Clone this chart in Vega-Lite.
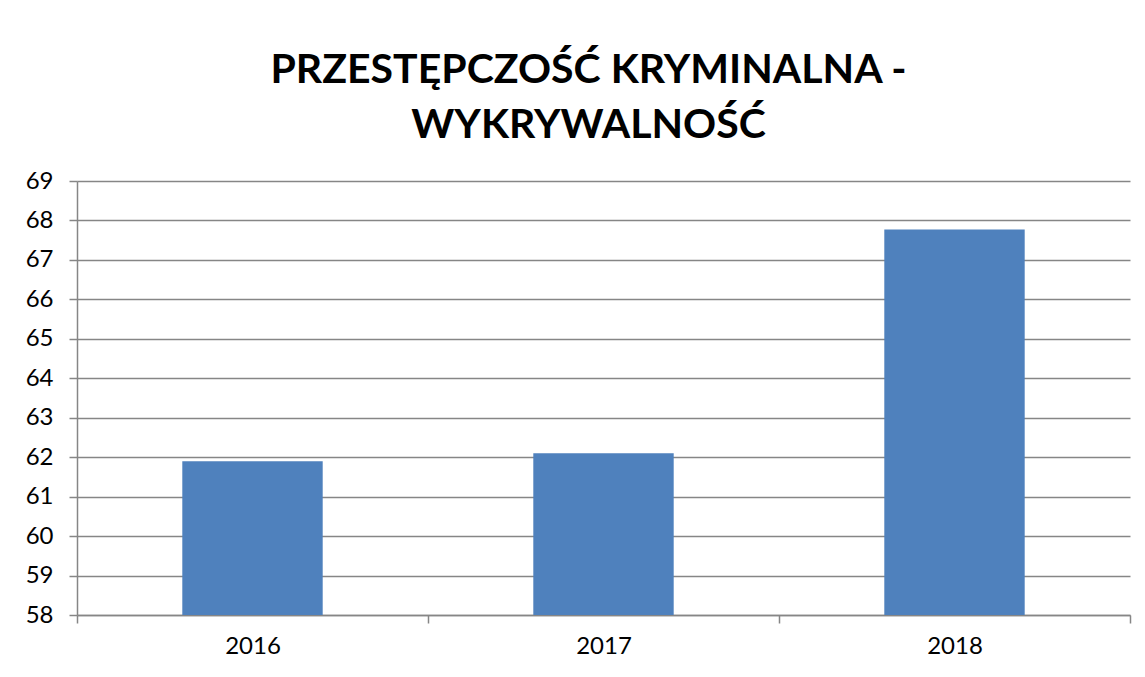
{
  "$schema": "https://vega.github.io/schema/vega-lite/v6.json",
  "width": 1053,
  "height": 434,
  "autosize": "none",
  "padding": {"left": 77, "top": 181, "right": 15, "bottom": 62},
  "background": "white",
  "title": {
    "text": ["PRZESTĘPCZOŚĆ KRYMINALNA -", "WYKRYWALNOŚĆ"],
    "font": "Lato",
    "fontWeight": "bold",
    "fontSize": 41,
    "lineHeight": 55,
    "color": "black",
    "anchor": "middle",
    "dx": -15,
    "offset": 22
  },
  "data": {
    "values": [
      {"year": "2016", "value": 61.9},
      {"year": "2017", "value": 62.1},
      {"year": "2018", "value": 67.77}
    ]
  },
  "mark": {"type": "bar", "color": "#4F81BD", "clip": true, "width": {"band": 0.4}},
  "encoding": {
    "x": {
      "field": "year",
      "type": "nominal",
      "scale": {"paddingInner": 0, "paddingOuter": 0},
      "axis": {
        "title": null,
        "labelAngle": 0,
        "labelFont": "Lato",
        "labelFontSize": 24,
        "labelColor": "black",
        "labelPadding": 11,
        "domainColor": "#868686",
        "domainWidth": 1.5,
        "tickColor": "#868686",
        "tickWidth": 1.5,
        "tickSize": 8,
        "tickBand": "extent",
        "grid": false
      }
    },
    "y": {
      "field": "value",
      "type": "quantitative",
      "scale": {"domain": [58, 69], "zero": false, "nice": false},
      "axis": {
        "title": null,
        "values": [58, 59, 60, 61, 62, 63, 64, 65, 66, 67, 68, 69],
        "labelFont": "Lato",
        "labelFontSize": 24,
        "labelColor": "black",
        "labelPadding": 16,
        "domainColor": "#868686",
        "domainWidth": 1.5,
        "tickColor": "#868686",
        "tickWidth": 1.5,
        "tickSize": 8,
        "grid": true,
        "gridColor": "#868686",
        "gridWidth": 1.5,
        "gridOpacity": 1
      }
    }
  },
  "config": {
    "view": {"stroke": null}
  }
}
